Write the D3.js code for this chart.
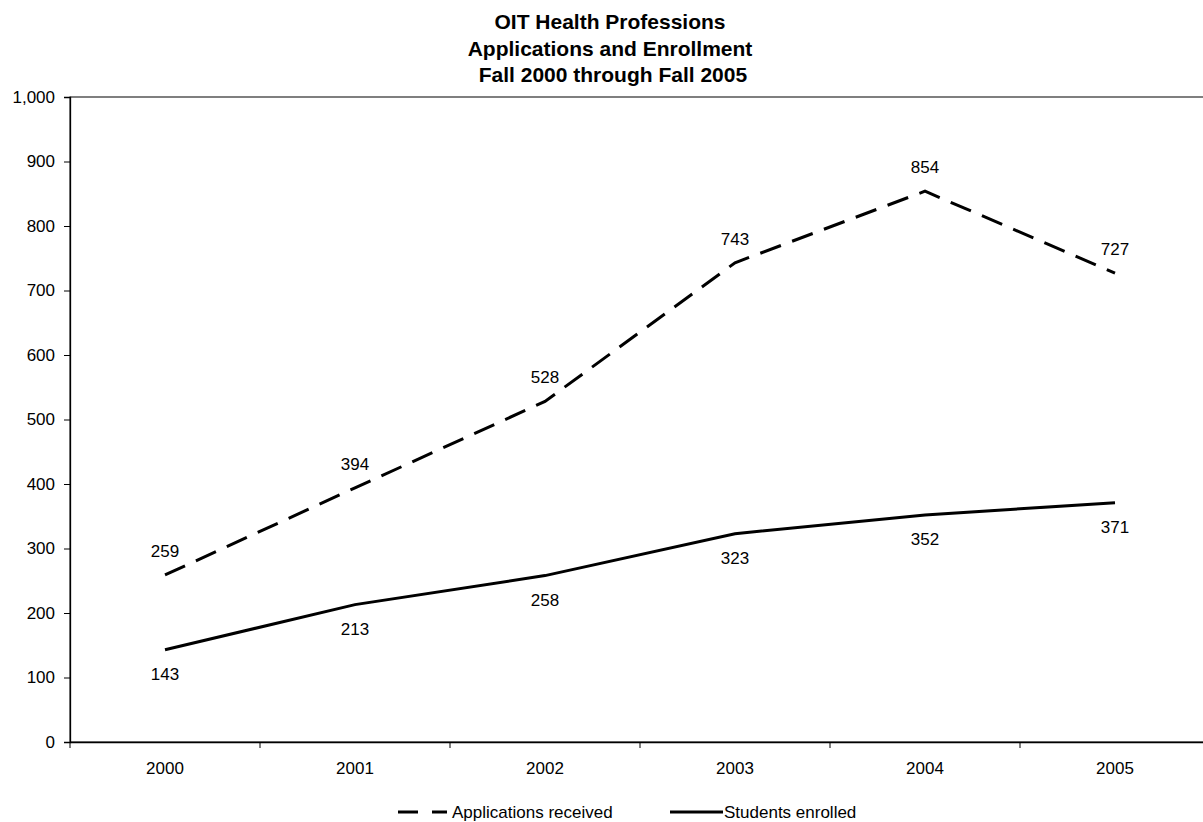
<!DOCTYPE html>
<html>
<head>
<meta charset="utf-8">
<script src="https://cdn.jsdelivr.net/npm/d3@7"></script>
<style>
  body { margin: 0; background: #fff; }
  text { font-family: "Liberation Sans", Arial, sans-serif; fill: #000; }
</style>
</head>
<body>
<div id="chart"></div>
<script>
const years = ["2000", "2001", "2002", "2003", "2004", "2005"];
const applications = [259, 394, 528, 743, 854, 727];
const enrolled = [143, 213, 258, 323, 352, 371];
const yTicks = [0, 100, 200, 300, 400, 500, 600, 700, 800, 900, 1000];
const titleLines = ["OIT Health Professions", "Applications and Enrollment", " Fall 2000 through Fall 2005"];

const width = 1203, height = 822;
const margin = { top: 97, right: -7, bottom: 80, left: 70 };

const svg = d3.select("#chart").append("svg")
    .attr("width", width)
    .attr("height", height);

const x = d3.scaleBand()
    .domain(years)
    .range([margin.left, width - margin.right]);

const y = d3.scaleLinear()
    .domain([0, 1000])
    .range([height - margin.bottom, margin.top]);

// title
svg.append("g").selectAll("text")
    .data(titleLines)
    .join("text")
    .attr("x", 610)
    .attr("y", (d, i) => 29 + i * 26.5)
    .attr("text-anchor", "middle")
    .style("font-size", "21px")
    .style("font-weight", "bold")
    .style("white-space", "pre")
    .text((d) => d);

// plot frame
svg.append("rect")
    .attr("x", margin.left)
    .attr("y", y(1000))
    .attr("width", x.range()[1] - margin.left)
    .attr("height", y(0) - y(1000))
    .attr("fill", "none")
    .attr("stroke", "#000")
    .attr("stroke-width", 1);

// axes
const yAxis = svg.append("g")
    .attr("transform", `translate(${margin.left},0)`)
    .call(d3.axisLeft(y).tickValues(yTicks).tickSize(6).tickPadding(9)
        .tickFormat(d3.format(",")));

const xAxis = svg.append("g")
    .attr("transform", `translate(0,${y(0)})`)
    .call(d3.axisBottom(x).tickSize(0).tickPadding(20));

// category boundary ticks
const bounds = years.map((d) => x(d)).concat([x.range()[1]]);
xAxis.selectAll(".bound")
    .data(bounds)
    .join("line")
    .attr("class", "bound")
    .attr("x1", (d) => d).attr("x2", (d) => d)
    .attr("y1", 0).attr("y2", 6)
    .attr("stroke", "#000");

[yAxis, xAxis].forEach((a) => {
    a.select(".domain").attr("stroke", "#000").attr("stroke-width", 1.3);
    a.selectAll("text").style("font-size", "17px")
        .style("font-family", "'Liberation Sans', Arial, sans-serif")
        .attr("fill", "#000");
    a.selectAll(".tick line").attr("stroke", "#000");
});

const cx = (i) => x(years[i]) + x.bandwidth() / 2;

const line = d3.line()
    .x((d, i) => cx(i))
    .y((d) => y(d));

svg.append("path")
    .datum(applications)
    .attr("d", line)
    .attr("fill", "none")
    .attr("stroke", "#000")
    .attr("stroke-width", 3)
    .attr("stroke-dasharray", "22,12");

svg.append("path")
    .datum(enrolled)
    .attr("d", line)
    .attr("fill", "none")
    .attr("stroke", "#000")
    .attr("stroke-width", 3);

// data labels
svg.append("g").selectAll("text")
    .data(applications)
    .join("text")
    .attr("x", (d, i) => cx(i))
    .attr("y", (d) => y(d) - 18)
    .attr("text-anchor", "middle")
    .style("font-size", "17px")
    .text((d) => d);

svg.append("g").selectAll("text")
    .data(enrolled)
    .join("text")
    .attr("x", (d, i) => cx(i))
    .attr("y", (d) => y(d) + 30)
    .attr("text-anchor", "middle")
    .style("font-size", "17px")
    .text((d) => d);

// legend
const legend = svg.append("g").attr("transform", "translate(0,812)");
legend.append("line")
    .attr("x1", 398).attr("x2", 447).attr("y1", 0).attr("y2", 0)
    .attr("stroke", "#000").attr("stroke-width", 3)
    .attr("stroke-dasharray", "20,14");
legend.append("text")
    .attr("x", 452).attr("y", 6)
    .style("font-size", "17px")
    .text("Applications received");
legend.append("line")
    .attr("x1", 670).attr("x2", 723).attr("y1", 0).attr("y2", 0)
    .attr("stroke", "#000").attr("stroke-width", 3);
legend.append("text")
    .attr("x", 724).attr("y", 6)
    .style("font-size", "17px")
    .text("Students enrolled");
</script>
</body>
</html>
